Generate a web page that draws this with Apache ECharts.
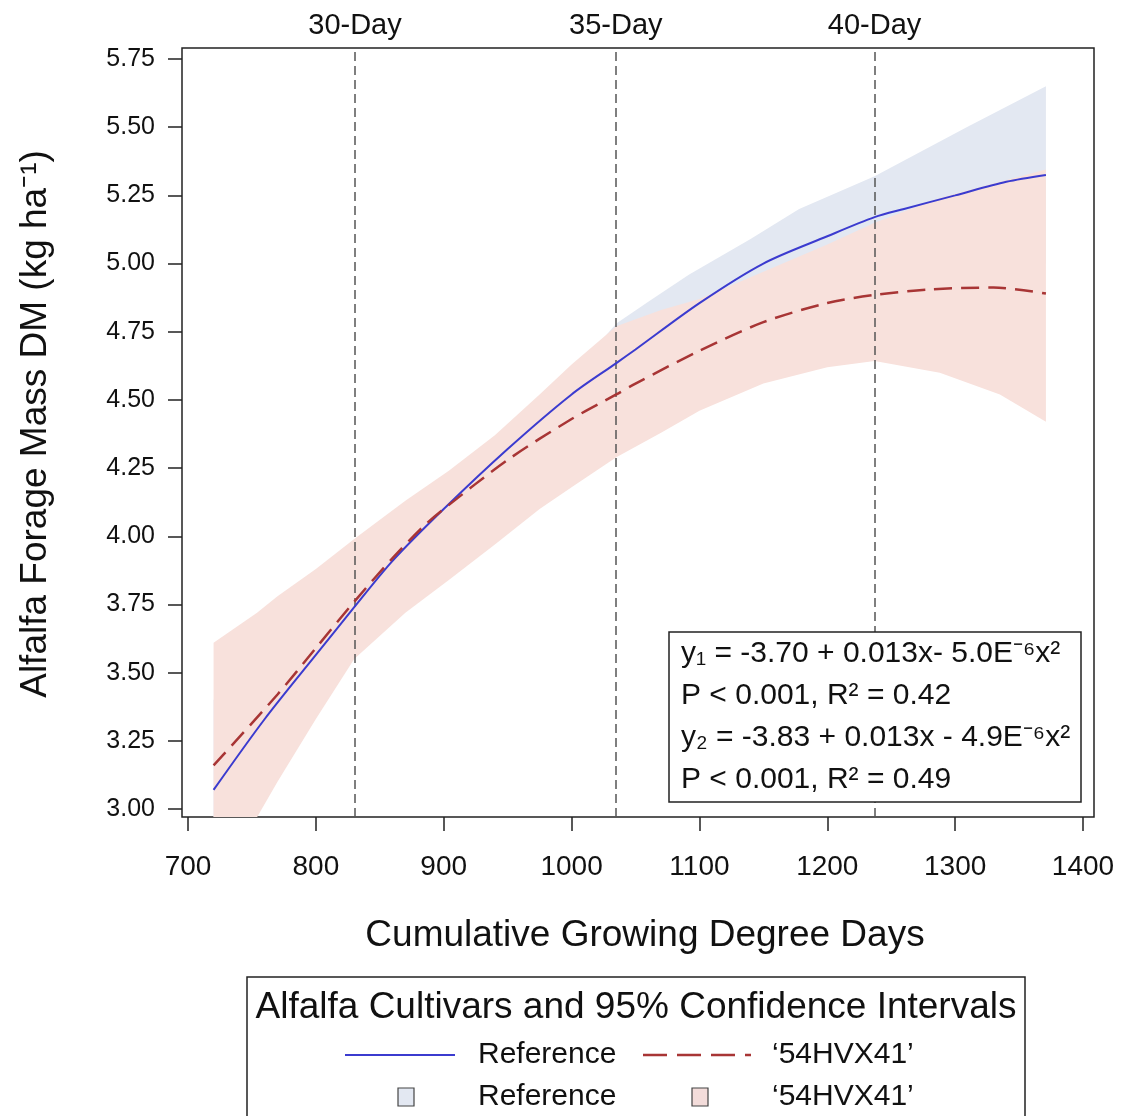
<!DOCTYPE html>
<html>
<head>
<meta charset="utf-8">
<script src="https://cdn.jsdelivr.net/npm/echarts@6/dist/echarts.min.js"></script>
<style>
html,body{margin:0;padding:0;background:#fff;}
#chart{width:1128px;height:1116px;}
</style>
</head>
<body>
<div id="chart"></div>
<script>
// ---- tick labels ----
const xTicks = [700, 800, 900, 1000, 1100, 1200, 1300, 1400];
const yTicks = [3.00, 3.25, 3.50, 3.75, 4.00, 4.25, 4.50, 4.75, 5.00, 5.25, 5.50, 5.75];

// ---- Reference cultivar: fitted line ----
const refX = [720, 760, 800, 830, 860, 900, 950, 1000, 1035, 1050, 1100, 1150, 1200, 1237, 1260, 1300, 1340, 1371];
const refY = [3.07, 3.33, 3.565, 3.74, 3.91, 4.10, 4.32, 4.52, 4.635, 4.685, 4.855, 5.00, 5.10, 5.17, 5.20, 5.25, 5.30, 5.325];

// ---- '54HVX41' cultivar: fitted line ----
const cvX = [720, 770, 800, 830, 860, 885, 900, 950, 1000, 1035, 1050, 1100, 1150, 1200, 1237, 1280, 1330, 1371];
const cvY = [3.16, 3.42, 3.59, 3.76, 3.92, 4.04, 4.10, 4.28, 4.43, 4.52, 4.56, 4.68, 4.785, 4.855, 4.885, 4.905, 4.912, 4.89];

// ---- Reference 95% CI ----
const refBandX     = [720, 800, 830, 900, 950, 1000, 1035, 1060, 1092, 1140, 1178, 1237, 1309, 1371];
const refBandLower = [2.80, 3.40, 3.58, 3.98, 4.22, 4.42, 4.50, 4.55, 4.62, 4.72, 4.78, 4.86, 4.93, 5.00];
const refBandUpper = [3.40, 3.80, 3.94, 4.20, 4.38, 4.59, 4.78, 4.86, 4.96, 5.09, 5.20, 5.32, 5.50, 5.65];

// ---- '54HVX41' 95% CI ----
const cvBandX     = [720, 754, 770, 800, 830, 870, 904, 940, 975, 1000, 1035, 1070, 1100, 1150, 1200, 1237, 1288, 1335, 1371];
const cvBandLower = [2.67, 2.97, 3.10, 3.33, 3.55, 3.72, 3.84, 3.97, 4.10, 4.18, 4.29, 4.38, 4.46, 4.56, 4.62, 4.643, 4.60, 4.52, 4.42];
const cvBandUpper = [3.61, 3.72, 3.78, 3.88, 3.99, 4.13, 4.24, 4.37, 4.52, 4.63, 4.77, 4.83, 4.87, 4.97, 5.07, 5.15, 5.24, 5.30, 5.345];

// ---- harvest interval reference lines ----
const dayX = [830.6, 1034.6, 1237];
const dayLabels = ['30-Day', '35-Day', '40-Day'];

// ---- texts ----
const eqLines = ['y\u2081 = -3.70 + 0.013x- 5.0E\u207B\u2076x\u00B2', 'P < 0.001, R\u00B2 = 0.42', 'y\u2082 = -3.83 + 0.013x - 4.9E\u207B\u2076x\u00B2', 'P < 0.001, R\u00B2 = 0.49'];
const legendTitle = 'Alfalfa Cultivars and 95% Confidence Intervals';
const seriesNames = ['Reference', '\u201854HVX41\u2019'];
const xTitle = 'Cumulative Growing Degree Days';
const yTitle = 'Alfalfa Forage Mass DM (kg ha\u207B\u00B9)';

const FONT = '"Liberation Sans", Arial, Helvetica, sans-serif';
const BLUE = '#3b3bcf', RED = '#a83535';
const BLUE_FILL = '#e3e8f2', RED_FILL = '#f8e1dc';

const pairs = (xs, ys) => xs.map((x, i) => [x, ys[i]]);

function bandSeries(name, xs, lo, hi, color) {
  return {
    type: 'custom', name: name, coordinateSystem: 'cartesian2d', silent: true, z: 1, clip: true,
    data: xs.map((x, i) => [x, lo[i], hi[i]]),
    encode: {x: 0, y: [1, 2]},
    renderItem: function (params, api) {
      if (params.dataIndex !== 0) return null;
      const pts = [];
      for (let i = 0; i < xs.length; i++) pts.push(api.coord([xs[i], hi[i]]));
      for (let i = xs.length - 1; i >= 0; i--) pts.push(api.coord([xs[i], lo[i]]));
      const cs = params.coordSys;
      return {
        type: 'polygon',
        shape: {points: pts},
        style: {fill: color, stroke: null},
        clipPath: {type: 'rect', shape: {x: cs.x, y: cs.y, width: cs.width, height: cs.height}}
      };
    }
  };
}

const chart = echarts.init(document.getElementById('chart'), null, {renderer: 'canvas'});

const option = {
  animation: false,
  backgroundColor: '#fff',
  textStyle: {fontFamily: FONT},
  grid: {left: 182, right: 34, top: 48, bottom: 299, show: true, borderColor: '#222', borderWidth: 1.5, backgroundColor: 'transparent', containLabel: false},
  xAxis: {
    type: 'value', min: 695.3, max: 1408.6,
    axisLine: {show: false}, splitLine: {show: false},
    axisTick: {show: true, customValues: xTicks, length: 14, lineStyle: {color: '#222', width: 1.5}},
    axisLabel: {customValues: xTicks, fontSize: 28, color: '#111', margin: 36, fontFamily: FONT,
                formatter: v => String(Math.round(v))}
  },
  yAxis: {
    type: 'value', min: 2.9707, max: 5.7903,
    axisLine: {show: false}, splitLine: {show: false},
    axisTick: {show: true, customValues: yTicks, length: 14, lineStyle: {color: '#222', width: 1.5}},
    axisLabel: {customValues: yTicks, fontSize: 25, color: '#111', margin: 27, fontFamily: FONT,
                formatter: v => Number(v).toFixed(2)}
  },
  series: [
    bandSeries('refBand', refBandX, refBandLower, refBandUpper, BLUE_FILL),
    bandSeries('cvBand', cvBandX, cvBandLower, cvBandUpper, RED_FILL),
    {type: 'line', name: 'Reference', data: pairs(refX, refY), symbol: 'none', smooth: 0.3,
     lineStyle: {color: BLUE, width: 2}, z: 5,
     markLine: {
       silent: true, symbol: ['none', 'none'], precision: 4,
       lineStyle: {color: '#555', type: [9, 5], width: 1.5},
       label: {show: true, position: 'end', distance: 8, fontSize: 29, color: '#111', fontFamily: FONT,
               formatter: p => p.name},
       data: dayX.map((v, i) => ({name: dayLabels[i], xAxis: v}))
     }},
    {type: 'line', name: '54HVX41', data: pairs(cvX, cvY), symbol: 'none', smooth: 0.3,
     lineStyle: {color: RED, width: 2.5, type: [18, 9]}, z: 6}
  ],
  graphic: [
    // equation box
    {type: 'rect', z: 100, shape: {x: 669, y: 632, width: 412, height: 170},
     style: {fill: '#fff', stroke: '#222', lineWidth: 1.5}},
    ...eqLines.map((t, i) => ({type: 'text', z: 101, x: 681, y: 654 + i * 42,
      style: {text: t, fontSize: 30, fontFamily: FONT, fill: '#111', textAlign: 'left', textVerticalAlign: 'middle', align: 'left', verticalAlign: 'middle'}})),
    // axis titles
    {type: 'text', z: 100, x: 645, y: 936,
     style: {text: xTitle, fontSize: 37, fontFamily: FONT, fill: '#111', textAlign: 'center', textVerticalAlign: 'middle', align: 'center', verticalAlign: 'middle'}},
    {type: 'text', z: 100, x: 36, y: 424, rotation: Math.PI / 2,
     style: {text: yTitle, fontSize: 37, fontFamily: FONT, fill: '#111', textAlign: 'center', textVerticalAlign: 'middle', align: 'center', verticalAlign: 'middle'}},
    // legend
    {type: 'rect', z: 100, shape: {x: 247, y: 977, width: 778, height: 160},
     style: {fill: '#fff', stroke: '#222', lineWidth: 1.5}},
    {type: 'text', z: 101, x: 636, y: 1008,
     style: {text: legendTitle, fontSize: 37, fontFamily: FONT, fill: '#111', textAlign: 'center', textVerticalAlign: 'middle', align: 'center', verticalAlign: 'middle'}},
    {type: 'line', z: 101, shape: {x1: 345, y1: 1055, x2: 455, y2: 1055}, style: {stroke: BLUE, lineWidth: 2}},
    {type: 'line', z: 101, shape: {x1: 643, y1: 1055, x2: 751, y2: 1055}, style: {stroke: RED, lineWidth: 2.5, lineDash: [24, 10]}},
    {type: 'rect', z: 101, shape: {x: 398, y: 1088, width: 16, height: 18}, style: {fill: BLUE_FILL, stroke: '#444', lineWidth: 1.2}},
    {type: 'rect', z: 101, shape: {x: 692, y: 1088, width: 16, height: 18}, style: {fill: '#f3dcda', stroke: '#444', lineWidth: 1.2}},
    {type: 'text', z: 101, x: 478, y: 1055, style: {text: seriesNames[0], fontSize: 30, fontFamily: FONT, fill: '#111', textAlign: 'left', textVerticalAlign: 'middle', align: 'left', verticalAlign: 'middle'}},
    {type: 'text', z: 101, x: 772, y: 1055, style: {text: seriesNames[1], fontSize: 30, fontFamily: FONT, fill: '#111', textAlign: 'left', textVerticalAlign: 'middle', align: 'left', verticalAlign: 'middle'}},
    {type: 'text', z: 101, x: 478, y: 1097, style: {text: seriesNames[0], fontSize: 30, fontFamily: FONT, fill: '#111', textAlign: 'left', textVerticalAlign: 'middle', align: 'left', verticalAlign: 'middle'}},
    {type: 'text', z: 101, x: 772, y: 1097, style: {text: seriesNames[1], fontSize: 30, fontFamily: FONT, fill: '#111', textAlign: 'left', textVerticalAlign: 'middle', align: 'left', verticalAlign: 'middle'}}
  ]
};
chart.setOption(option);
</script>
</body>
</html>
